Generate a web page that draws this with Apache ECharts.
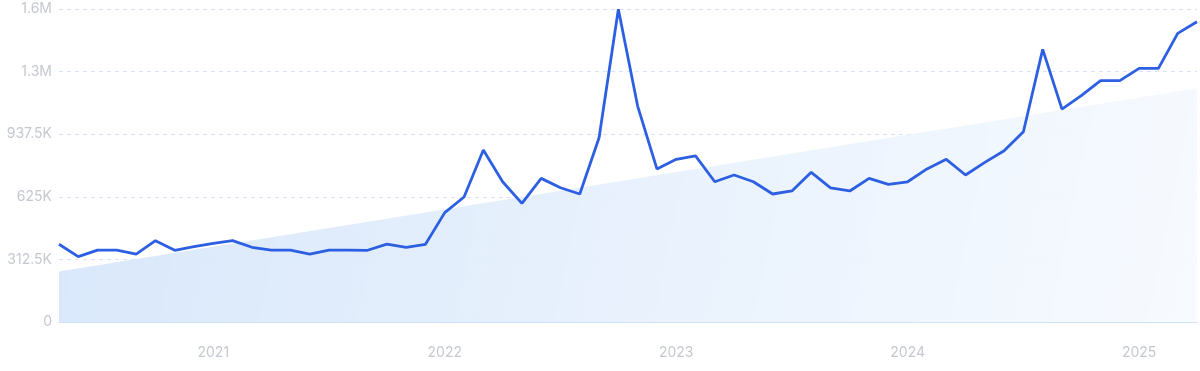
<!DOCTYPE html>
<html>
<head>
<meta charset="utf-8">
<script src="https://cdn.jsdelivr.net/npm/echarts@6/dist/echarts.min.js"></script>
<style>html,body{margin:0;padding:0;background:#fff}#c{width:1200px;height:371px}</style>
</head>
<body>
<div id="c"></div>
<script>
const months = [
 '2020-05','2020-06','2020-07','2020-08','2020-09','2020-10','2020-11','2020-12',
 '2021-01','2021-02','2021-03','2021-04','2021-05','2021-06','2021-07','2021-08','2021-09','2021-10','2021-11','2021-12',
 '2022-01','2022-02','2022-03','2022-04','2022-05','2022-06','2022-07','2022-08','2022-09','2022-10','2022-11','2022-12',
 '2023-01','2023-02','2023-03','2023-04','2023-05','2023-06','2023-07','2023-08','2023-09','2023-10','2023-11','2023-12',
 '2024-01','2024-02','2024-03','2024-04','2024-05','2024-06','2024-07','2024-08','2024-09','2024-10','2024-11','2024-12',
 '2025-01','2025-02','2025-03','2025-04'
];
const volume = [
 388000,326000,359000,359000,339000,406000,358000,376000,
 393000,406000,373000,359000,359000,339000,359000,359000,358000,389000,373000,388000,
 546000,624000,859000,700000,592000,717000,670000,639000,920000,1561000,1078000,764000,
 812000,829000,700000,734000,700000,639000,654000,747000,670000,654000,717000,687000,
 700000,764000,812000,734000,797000,855000,950000,1361000,1063000,1130000,1205000,1205000,
 1266000,1266000,1441000,1499000
];
const trendStart = 252000;
const trendEnd = 1167000;
const yTicks = { min: 0, max: 1562500, interval: 312500 };

const trend = months.map((m, i) => i === 0 ? trendStart : (i === months.length - 1 ? trendEnd : null));

const chart = echarts.init(document.getElementById('c'));
chart.setOption({
  animation: false,
  grid: { left: 59, right: 3, top: 9, bottom: 49 },
  xAxis: {
    type: 'category',
    data: months,
    boundaryGap: false,
    axisLine: { show: true, lineStyle: { color: '#cfe3f8', width: 1 } },
    axisTick: { show: false },
    splitLine: { show: false },
    axisLabel: {
      interval: (i, v) => v.endsWith('-01'),
      formatter: v => v.slice(0, 4),
      color: '#c5c8d0',
      fontSize: 14,
      fontFamily: 'Inter, sans-serif',
      margin: 24
    }
  },
  yAxis: {
    type: 'value',
    min: yTicks.min, max: yTicks.max, interval: yTicks.interval,
    axisLine: { show: false },
    axisTick: { show: false },
    splitLine: { show: true, lineStyle: { color: '#d9e5f5', type: [4, 4], width: 1 } },
    axisLabel: {
      color: '#c5c8d0',
      fontSize: 14,
      fontFamily: 'Inter, sans-serif',
      margin: 7,
      formatter: v => v === 0 ? '0' : (v >= 1000000 ? (v / 1000000).toFixed(1) + 'M' : (v / 1000) + 'K')
    }
  },
  series: [
    {
      type: 'line',
      data: trend,
      connectNulls: true,
      symbol: 'none',
      lineStyle: { width: 0 },
      areaStyle: {
        opacity: 1,
        color: new echarts.graphic.LinearGradient(0, 0, 1, 1, [
          { offset: 0, color: 'rgba(214,230,250,0.95)' },
          { offset: 1, color: 'rgba(246,250,255,0.9)' }
        ])
      },
      z: 1
    },
    {
      type: 'line',
      data: volume,
      symbol: 'none',
      lineStyle: { color: '#2d5fe2', width: 2.8 },
      z: 3
    }
  ]
});
</script>
</body>
</html>
